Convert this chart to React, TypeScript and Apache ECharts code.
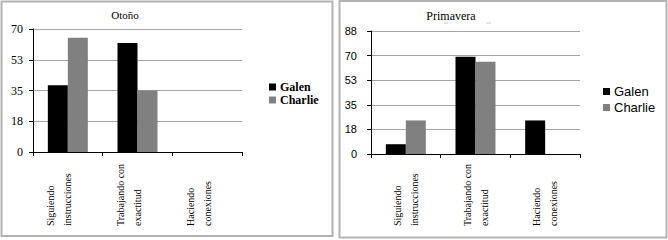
import React, { useEffect, useRef } from "react";
import * as echarts from "echarts";

const categories = ["Siguiendo\ninstrucciones", "Trabajando con\nexactitud", "Haciendo\nconexiones"];
const seriesNames = ["Galen", "Charlie"];
const otonoGalen = [38, 62, 0];
const otonoCharlie = [65, 35, 0];
const primaveraGalen = [7, 69.5, 24];
const primaveraCharlie = [24, 66, 0];
const otonoMax = 70;
const otonoInterval = 17.5;
const primaveraMax = 88;
const primaveraInterval = 17.6;
const titles = ["Otoño", "Primavera"];

const SERIF = "Times New Roman";
const SANS = "Arial";
const BLACK = "#000000";
const GRAY = "#808080";

export default function App() {
  const ref = useRef<HTMLDivElement>(null);
  useEffect(() => {
    if (!ref.current) return;
    const chart = echarts.init(ref.current, undefined, { renderer: "svg" });
    const yAxisCommon = (fontFamily: string, fontSize: number, margin: number) => ({
      type: "value" as const,
      axisLine: { show: true, lineStyle: { color: "#000", width: 1 } },
      axisTick: { show: true, length: 4, lineStyle: { color: "#000" } },
      splitLine: { show: true, lineStyle: { color: "#a6a6a6", width: 1 } },
      axisLabel: {
        color: "#000",
        fontFamily,
        fontSize,
        margin,
        formatter: (v: number) => String(Math.round(v)),
      },
    });
    const xAxisCommon = (margin: number, extraLine: boolean) => ({
      type: "category" as const,
      data: categories,
      axisLine: { show: true, lineStyle: { color: "#000", width: 1 } },
      axisTick: { show: true, length: 4, lineStyle: { color: "#000" } },
      axisLabel: {
        rotate: 90,
        align: "left",
        verticalAlign: "middle",
        margin,
        color: "#000",
        fontFamily: SERIF,
        fontSize: 10,
        lineHeight: 17,
        interval: 0,
        formatter: (v: string) => (extraLine ? v + "\n " : v),
      },
    });
    chart.setOption({
      animation: false,
      backgroundColor: "#ffffff",
      title: [
        { text: titles[0], left: 120, top: 4, textAlign: "center", textStyle: { fontFamily: SERIF, fontSize: 11, fontWeight: "normal", color: "#000" } },
        { text: titles[1], left: 446, top: 5, textAlign: "center", textStyle: { fontFamily: SERIF, fontSize: 12, fontWeight: "normal", color: "#000" } },
      ],
      legend: [
        {
          data: seriesNames,
          orient: "vertical",
          left: 264,
          top: 76,
          itemWidth: 7,
          itemHeight: 7,
          itemGap: 1,
          icon: "rect",
          textStyle: { fontFamily: SERIF, fontSize: 12, fontWeight: "bold", color: "#000", padding: [0, 0, 0, -1] },
        },
        {
          data: seriesNames,
          orient: "vertical",
          left: 598,
          top: 80,
          itemWidth: 7,
          itemHeight: 7,
          itemGap: 3,
          icon: "rect",
          textStyle: { fontFamily: SANS, fontSize: 13, color: "#000", padding: [0, 0, 0, -1] },
        },
      ],
      grid: [
        { left: 33, top: 29, width: 209, height: 123 },
        { left: 371, top: 31, width: 209, height: 123 },
      ],
      xAxis: [
        { ...xAxisCommon(74, true), gridIndex: 0 },
        { ...xAxisCommon(72, false), gridIndex: 1 },
      ],
      yAxis: [
        { ...yAxisCommon(SERIF, 12, 10), gridIndex: 0, min: 0, max: otonoMax, interval: otonoInterval },
        { ...yAxisCommon(SANS, 11, 14), gridIndex: 1, min: 0, max: primaveraMax, interval: primaveraInterval },
      ],
      series: [
        { name: "Galen", type: "bar", xAxisIndex: 0, yAxisIndex: 0, data: otonoGalen, barWidth: 20, barGap: "0%", itemStyle: { color: BLACK } },
        { name: "Charlie", type: "bar", xAxisIndex: 0, yAxisIndex: 0, data: otonoCharlie, barWidth: 20, barGap: "0%", itemStyle: { color: GRAY } },
        { name: "Galen", type: "bar", xAxisIndex: 1, yAxisIndex: 1, data: primaveraGalen, barWidth: 20, barGap: "0%", itemStyle: { color: BLACK } },
        { name: "Charlie", type: "bar", xAxisIndex: 1, yAxisIndex: 1, data: primaveraCharlie, barWidth: 20, barGap: "0%", itemStyle: { color: GRAY } },
      ],
      graphic: [
        { type: "rect", shape: { x: 1.5, y: 1.5, width: 331, height: 234.5 }, style: { fill: "none", stroke: "#b3b3b3", lineWidth: 2 }, silent: true },
        { type: "rect", shape: { x: 339.5, y: 1, width: 327, height: 236.5 }, style: { fill: "none", stroke: "#b3b3b3", lineWidth: 2 }, silent: true },
        { type: "line", shape: { x1: 444, y1: 23, x2: 448, y2: 23 }, style: { stroke: "#c8c8c8", lineWidth: 1 }, silent: true },
        { type: "line", shape: { x1: 486, y1: 23, x2: 491, y2: 23 }, style: { stroke: "#c8c8c8", lineWidth: 1 }, silent: true },
      ],
    });
    return () => chart.dispose();
  }, []);
  return <div ref={ref} style={{ position: "absolute", left: 0, top: 0, width: 668, height: 240 }} />;
}
